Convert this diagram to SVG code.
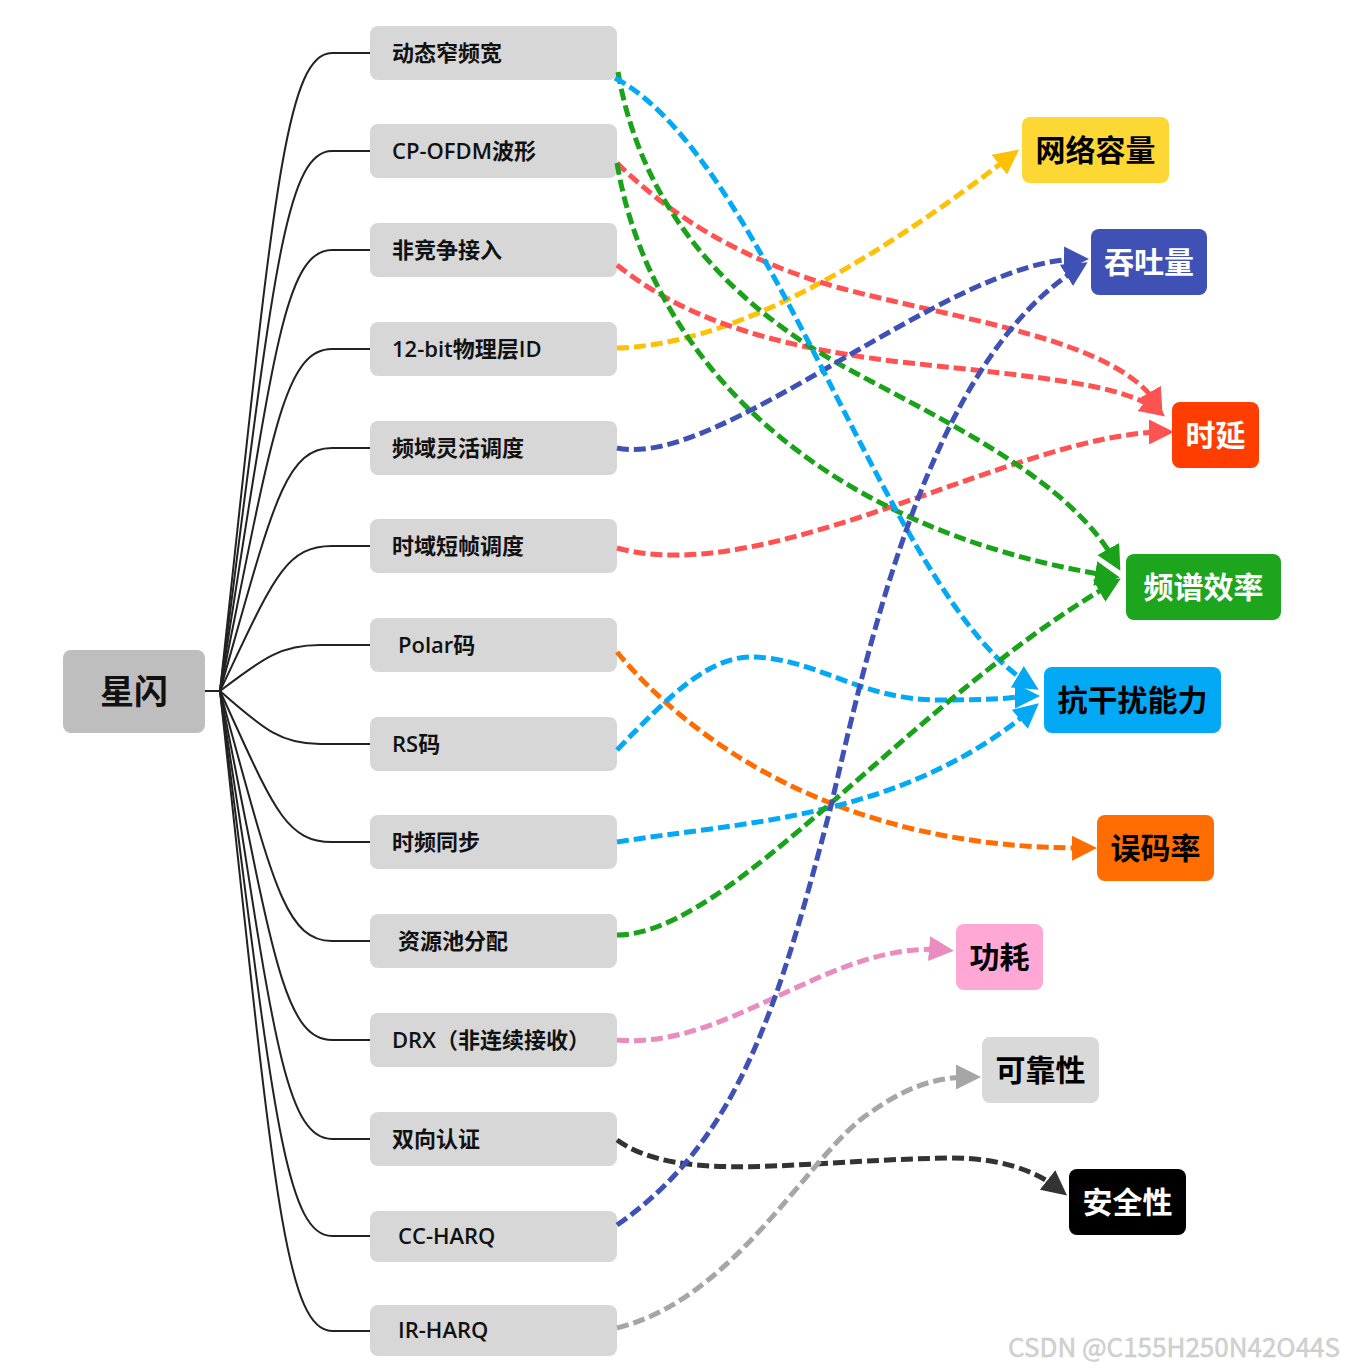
<svg xmlns="http://www.w3.org/2000/svg" width="1345" height="1371" viewBox="0 0 1345 1371">
<style>
text{font-family:"Noto Sans CJK SC","Noto Sans",sans-serif;}
.leaf rect{fill:#d7d7d7;}
.leaf text{font-size:22px;font-weight:700;fill:#111;}
.leaf tspan.l,.leaf text.l{font-family:"Open Sans","Noto Sans",sans-serif;font-weight:600;}
.tgt text{font-size:30px;font-weight:700;text-anchor:middle;}
.tree path{fill:none;stroke:#222;stroke-width:2;}
.c{fill:none;stroke-width:5;stroke-dasharray:12 5;}
.blue{stroke:#03a9f4}.green{stroke:#1aa31a}.red{stroke:#ff5252}.yellow{stroke:#ffc107}
.indigo{stroke:#3f51b5}.orange{stroke:#ff6d00}.pink{stroke:#e98cc0}.dark{stroke:#333}.gray{stroke:#a6a6a6}
</style>
<defs>
<marker id="mBlue" viewBox="0 0 25 25" markerWidth="25" markerHeight="25" refX="16" refY="12.5" orient="auto" markerUnits="userSpaceOnUse"><path d="M0,0L25,12.5L0,25Z" fill="#03a9f4"/></marker>
<marker id="mGreen" viewBox="0 0 25 25" markerWidth="25" markerHeight="25" refX="16" refY="12.5" orient="auto" markerUnits="userSpaceOnUse"><path d="M0,0L25,12.5L0,25Z" fill="#1aa31a"/></marker>
<marker id="mRed" viewBox="0 0 25 25" markerWidth="25" markerHeight="25" refX="16" refY="12.5" orient="auto" markerUnits="userSpaceOnUse"><path d="M0,0L25,12.5L0,25Z" fill="#ff5252"/></marker>
<marker id="mYellow" viewBox="0 0 25 25" markerWidth="25" markerHeight="25" refX="16" refY="12.5" orient="auto" markerUnits="userSpaceOnUse"><path d="M0,0L25,12.5L0,25Z" fill="#ffc107"/></marker>
<marker id="mIndigo" viewBox="0 0 25 25" markerWidth="25" markerHeight="25" refX="16" refY="12.5" orient="auto" markerUnits="userSpaceOnUse"><path d="M0,0L25,12.5L0,25Z" fill="#3f51b5"/></marker>
<marker id="mOrange" viewBox="0 0 25 25" markerWidth="25" markerHeight="25" refX="16" refY="12.5" orient="auto" markerUnits="userSpaceOnUse"><path d="M0,0L25,12.5L0,25Z" fill="#ff6d00"/></marker>
<marker id="mPink" viewBox="0 0 25 25" markerWidth="25" markerHeight="25" refX="16" refY="12.5" orient="auto" markerUnits="userSpaceOnUse"><path d="M0,0L25,12.5L0,25Z" fill="#e98cc0"/></marker>
<marker id="mDark" viewBox="0 0 25 25" markerWidth="25" markerHeight="25" refX="16" refY="12.5" orient="auto" markerUnits="userSpaceOnUse"><path d="M0,0L25,12.5L0,25Z" fill="#333"/></marker>
<marker id="mGray" viewBox="0 0 25 25" markerWidth="25" markerHeight="25" refX="16" refY="12.5" orient="auto" markerUnits="userSpaceOnUse"><path d="M0,0L25,12.5L0,25Z" fill="#a6a6a6"/></marker>
</defs>
<rect width="1345" height="1371" fill="#fff"/>

<g id="tree" class="tree">
<path d="M205,691H220"/>
<path d="M220,691C272,212.5 284,53 332,53H370"/>
<path d="M220,691C272,286 284,151 332,151H370"/>
<path d="M220,691C272,360 284,250 332,250H370"/>
<path d="M220,691C272,434.5 284,349 332,349H370"/>
<path d="M220,691C272,508.75 284,448 332,448H370"/>
<path d="M220,691C272,582 284,546 332,546H370"/>
<path d="M220,691C265,656.5 282,645 320,645H370"/>
<path d="M220,691C265,730.75 282,744 320,744H370"/>
<path d="M220,691C272,804 284,842 332,842H370"/>
<path d="M220,691C272,878.5 284,941 332,941H370"/>
<path d="M220,691C272,952.75 284,1040 332,1040H370"/>
<path d="M220,691C272,1027 284,1139 332,1139H370"/>
<path d="M220,691C272,1100 284,1236 332,1236H370"/>
<path d="M220,691C272,1171 284,1331 332,1331H370"/>
</g>

<g id="root"><rect x="63" y="650" width="142" height="83" rx="8" fill="#bebebe"/><text x="134" y="704" font-size="34" font-weight="700" text-anchor="middle" fill="#111">星闪</text></g>

<g id="n1" class="leaf"><rect x="370" y="26" width="247" height="54" rx="8"/><text x="392" y="61">动态窄频宽</text></g>
<g id="n2" class="leaf"><rect x="370" y="124" width="247" height="54" rx="8"/><text x="392" y="159"><tspan class="l">CP-OFDM</tspan>波形</text></g>
<g id="n3" class="leaf"><rect x="370" y="223" width="247" height="54" rx="8"/><text x="392" y="258">非竞争接入</text></g>
<g id="n4" class="leaf"><rect x="370" y="322" width="247" height="54" rx="8"/><text x="392" y="357"><tspan class="l">12-bit</tspan>物理层<tspan class="l">ID</tspan></text></g>
<g id="n5" class="leaf"><rect x="370" y="421" width="247" height="54" rx="8"/><text x="392" y="456">频域灵活调度</text></g>
<g id="n6" class="leaf"><rect x="370" y="519" width="247" height="54" rx="8"/><text x="392" y="554">时域短帧调度</text></g>
<g id="n7" class="leaf"><rect x="370" y="618" width="247" height="54" rx="8"/><text x="398" y="653"><tspan class="l">Polar</tspan>码</text></g>
<g id="n8" class="leaf"><rect x="370" y="717" width="247" height="54" rx="8"/><text x="392" y="752"><tspan class="l">RS</tspan>码</text></g>
<g id="n9" class="leaf"><rect x="370" y="815" width="247" height="54" rx="8"/><text x="392" y="850">时频同步</text></g>
<g id="n10" class="leaf"><rect x="370" y="914" width="247" height="54" rx="8"/><text x="398" y="949">资源池分配</text></g>
<g id="n11" class="leaf"><rect x="370" y="1013" width="247" height="54" rx="8"/><text x="392" y="1048"><tspan class="l">DRX</tspan>（非连续接收）</text></g>
<g id="n12" class="leaf"><rect x="370" y="1112" width="247" height="54" rx="8"/><text x="392" y="1147">双向认证</text></g>
<g id="n13" class="leaf"><rect x="370" y="1211" width="247" height="51" rx="8"/><text class="l" x="398" y="1244">CC-HARQ</text></g>
<g id="n14" class="leaf"><rect x="370" y="1305" width="247" height="51" rx="8"/><text class="l" x="398" y="1338">IR-HARQ</text></g>

<g id="t1" class="tgt"><rect x="1022" y="117" width="147" height="66" rx="8" fill="#fdd835"/><text x="1095.5" y="161" fill="#000">网络容量</text></g>
<g id="t2" class="tgt"><rect x="1091" y="229" width="116" height="66" rx="8" fill="#3f51b5"/><text x="1149" y="273" fill="#fff">吞吐量</text></g>
<g id="t3" class="tgt"><rect x="1172" y="402" width="87" height="66" rx="8" fill="#ff3d00"/><text x="1215.5" y="446" fill="#fff">时延</text></g>
<g id="t4" class="tgt"><rect x="1126" y="554" width="155" height="66" rx="8" fill="#1ea51e"/><text x="1203.5" y="598" fill="#fff">频谱效率</text></g>
<g id="t5" class="tgt"><rect x="1044" y="667" width="177" height="66" rx="8" fill="#03a9f4"/><text x="1132.5" y="711" fill="#000">抗干扰能力</text></g>
<g id="t6" class="tgt"><rect x="1097" y="815" width="117" height="66" rx="8" fill="#ff6d00"/><text x="1155.5" y="859" fill="#000">误码率</text></g>
<g id="t7" class="tgt"><rect x="956" y="924" width="87" height="66" rx="8" fill="#ffa8d6"/><text x="999.5" y="968" fill="#000">功耗</text></g>
<g id="t8" class="tgt"><rect x="982" y="1037" width="117" height="66" rx="8" fill="#d9d9d9"/><text x="1040.5" y="1081" fill="#000">可靠性</text></g>
<g id="t9" class="tgt"><rect x="1069" y="1169" width="117" height="66" rx="8" fill="#000"/><text x="1127.5" y="1213" fill="#fff">安全性</text></g>

<g id="connectors">
<path class="c yellow" marker-end="url(#mYellow)" d="M617,348C720,345 850,280 1012,155"/>
<path class="c red" marker-end="url(#mRed)" d="M617,163C670,215 740,260 840,288C960,320 1120,340 1158,406"/>
<path class="c red" marker-end="url(#mRed)" d="M617,265C680,315 760,345 900,362C1050,378 1125,385 1158,411"/>
<path class="c red" marker-end="url(#mRed)" d="M617,548C770,590 1020,432 1165,432"/>
<path class="c green" marker-end="url(#mGreen)" d="M618,72C640,200 720,300 850,370C950,424 1070,480 1116,563"/>
<path class="c green" marker-end="url(#mGreen)" d="M617,163C650,360 820,530 1111,576"/>
<path class="c indigo" marker-end="url(#mIndigo)" d="M617,448C720,470 950,258 1080,259"/>
<path class="c blue" marker-end="url(#mBlue)" d="M615,78C770,160 890,600 1031,685"/>
<path class="c orange" marker-end="url(#mOrange)" d="M617,652C690,740 840,850 1088,848"/>
<path class="c blue" marker-end="url(#mBlue)" d="M617,750C670,695 710,655 755,657C820,660 860,700 940,700S1010,696 1031,696"/>
<path class="c blue" marker-end="url(#mBlue)" d="M617,842C740,822 900,820 1032,709"/>
<path class="c green" marker-end="url(#mGreen)" d="M617,935C730,935 910,700 1113,583"/>
<path class="c pink" marker-end="url(#mPink)" d="M617,1040C730,1050 830,940 945,950"/>
<path class="c dark" marker-end="url(#mDark)" d="M617,1140C680,1185 800,1160 950,1158C1000,1158 1035,1170 1060,1190"/>
<path class="c indigo" marker-end="url(#mIndigo)" d="M617,1225C740,1140 780,1000 830,810C870,640 930,360 1080,267"/>
<path class="c gray" marker-end="url(#mGray)" d="M617,1328C730,1300 800,1170 860,1120C900,1090 930,1077 972,1077"/>
</g>

<text x="1340" y="1357" text-anchor="end" font-family="Liberation Sans, Arial, sans-serif" font-size="26" fill="#d2d2d2" stroke="#c4c4c4" stroke-width="0.4">CSDN @C155H250N42O44S</text>
</svg>
